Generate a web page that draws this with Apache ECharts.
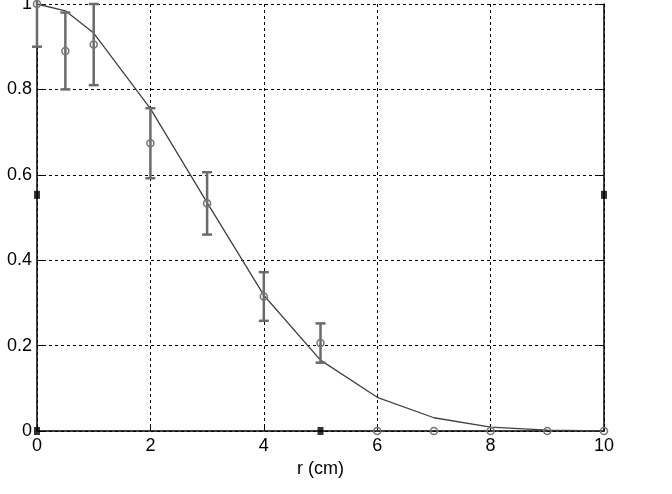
<!DOCTYPE html>
<html>
<head>
<meta charset="utf-8">
<script src="https://cdn.jsdelivr.net/npm/echarts@6/dist/echarts.min.js"></script>
<style>
  html, body { margin: 0; padding: 0; background: #fff; }
  #chart { width: 672px; height: 494px; }
</style>
</head>
<body>
<div id="chart"></div>
<script>
// radius r (cm) where values were taken
var radius = [0, 0.5, 1, 2, 3, 4, 5, 6, 7, 8, 9, 10];
// measured values and their errors (+/-)
var measured = [1.0, 0.89, 0.905, 0.674, 0.533, 0.315, 0.206, 0, 0, 0, 0, 0];
var errors = [0.1, 0.09, 0.095, 0.082, 0.073, 0.057, 0.046, 0, 0, 0, 0, 0];
// model curve
var fitted = [1.0, 0.984, 0.932, 0.755, 0.535, 0.318, 0.166, 0.079, 0.031, 0.009, 0.002, 0.0];
// selection handles of the axes (data units)
var handles = [[0, 0.553], [10, 0.553], [5, 0], [0, 0]];

var chart = echarts.init(document.getElementById('chart'));

var fitData = radius.map(function (r, i) { return [r, fitted[i]]; });
var errData = radius.map(function (r, i) { return [r, measured[i], errors[i]]; });

var grayBar = '#6b6b6b';

function renderError(params, api) {
    var x = api.value(0), y = api.value(1), e = api.value(2);
    var top = api.coord([x, y + e]);
    var bot = api.coord([x, y - e]);
    var mid = api.coord([x, y]);
    var cap = 5;
    var children = [];
    if (e > 0) {
        children.push(
            { type: 'line', shape: { x1: top[0], y1: top[1], x2: bot[0], y2: bot[1] },
              style: { stroke: grayBar, lineWidth: 2.5 } },
            { type: 'line', shape: { x1: top[0] - cap, y1: top[1], x2: top[0] + cap, y2: top[1] },
              style: { stroke: grayBar, lineWidth: 2.5 } },
            { type: 'line', shape: { x1: bot[0] - cap, y1: bot[1], x2: bot[0] + cap, y2: bot[1] },
              style: { stroke: grayBar, lineWidth: 2.5 } }
        );
    }
    children.push({
        type: 'circle',
        shape: { cx: mid[0], cy: mid[1], r: 3.5 },
        style: { fill: 'none', stroke: '#777', lineWidth: 1.6 }
    });
    return { type: 'group', children: children };
}

var tickFont = { fontFamily: 'Liberation Sans, Arial, sans-serif', fontSize: 18, color: '#000' };

chart.setOption({
    animation: false,
    backgroundColor: '#fff',
    grid: {
        left: 37,
        right: 68,
        top: 4,
        bottom: 63,
        containLabel: false,
        outerBoundsMode: 'none'
    },
    xAxis: {
        type: 'value',
        min: 0,
        max: 10,
        interval: 2,
        name: 'r (cm)',
        nameLocation: 'middle',
        nameGap: 28,
        nameTextStyle: tickFont,
        axisLine: { show: true, onZero: false, lineStyle: { color: '#000', width: 1.5 } },
        axisTick: { show: true, inside: true, length: 7, lineStyle: { color: '#000', width: 1 } },
        axisLabel: Object.assign({ margin: 6 }, tickFont),
        splitLine: { show: true, lineStyle: { color: '#000', width: 1, type: [3, 3] } }
    },
    yAxis: [{
        type: 'value',
        min: 0,
        max: 1,
        interval: 0.2,
        axisLine: { show: true, lineStyle: { color: '#000', width: 1.5 } },
        axisTick: { show: true, inside: true, length: 7, lineStyle: { color: '#000', width: 1 } },
        axisLabel: Object.assign({ margin: 5 }, tickFont),
        splitLine: { show: true, lineStyle: { color: '#000', width: 1, type: [3, 3] } }
    }, {
        type: 'value',
        position: 'right',
        min: 0,
        max: 1,
        interval: 0.2,
        axisLine: { show: true, lineStyle: { color: '#000', width: 1.5 } },
        axisTick: { show: true, inside: true, length: 7, lineStyle: { color: '#000', width: 1 } },
        axisLabel: { show: false },
        splitLine: { show: false }
    }],
    series: [
        {
            name: 'handles',
            type: 'scatter',
            symbol: 'rect',
            symbolSize: [6, 8],
            itemStyle: { color: '#000' },
            data: handles,
            z: 1
        },
        {
            name: 'fit',
            type: 'line',
            symbol: 'none',
            lineStyle: { color: '#404040', width: 1.3 },
            data: fitData,
            z: 3
        },
        {
            name: 'measured',
            type: 'custom',
            renderItem: renderError,
            encode: { x: 0, y: 1 },
            data: errData,
            clip: false,
            z: 4
        }
    ]
});
</script>
</body>
</html>
